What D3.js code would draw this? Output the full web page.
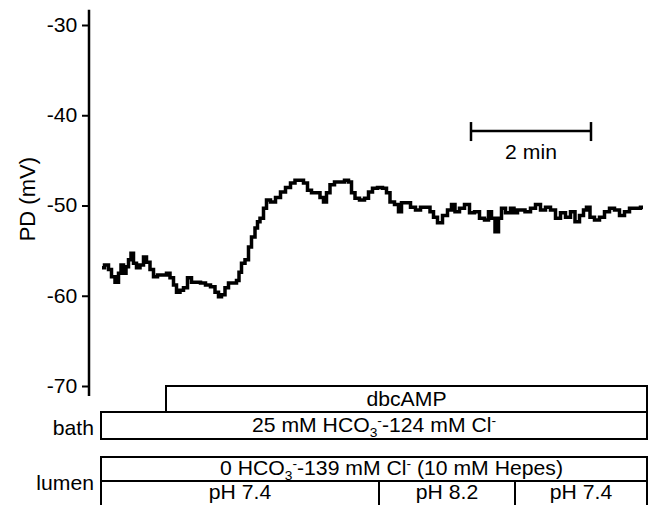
<!DOCTYPE html>
<html>
<head>
<meta charset="utf-8">
<script src="https://cdn.jsdelivr.net/npm/d3@7"></script>
<style>
  body { margin: 0; background: #fff; }
  text { font-family: "Liberation Sans", Arial, sans-serif; fill: #000; }
</style>
</head>
<body>
<svg width="653" height="505"></svg>
<script>
// time in seconds from start of trace, PD in mV
const timeS = [0, 5, 8, 11, 15, 18, 20, 23, 25, 28, 30, 33, 36, 40, 43, 46, 50, 53, 58, 63,
  66, 70, 73, 76, 80, 83, 88, 91, 96, 101, 106, 111, 115, 118, 121, 125, 128, 133, 136, 138,
  141, 145, 148, 151, 155, 156, 160, 163, 166, 171, 176, 181, 186, 191, 195, 200, 203, 208, 211, 216,
  220, 223, 226, 230, 235, 240, 245, 248, 251, 255, 260, 265, 268, 273, 278, 283, 286, 290, 295, 298,
  301, 306, 311, 316, 321, 326, 330, 333, 338, 343, 348, 351, 355, 360, 365, 370, 375, 380, 385, 388,
  391, 395, 398, 401, 406, 411, 413, 418, 420, 426, 431, 436, 441, 446, 451, 456, 461, 466, 471, 475,
  480, 483, 486, 490, 495, 500, 505, 510, 515, 520, 525, 530, 536, 541];
const pdMV = [-56.9, -56.6, -57.1, -57.9, -58.5, -57.5, -56.6, -57.5, -56.8, -56.0, -55.3, -56.4, -56.9, -56.6, -55.7, -56.3, -57.1, -57.9, -57.7, -57.7,
  -57.5, -58.0, -58.8, -59.6, -59.4, -59.1, -58.0, -58.5, -58.5, -58.6, -58.8, -59.0, -59.6, -60.1, -59.9, -59.1, -58.6, -58.6, -58.3, -57.4,
  -56.4, -56.0, -54.6, -53.5, -52.5, -51.8, -51.4, -50.3, -49.4, -49.6, -49.1, -48.5, -48.0, -47.5, -47.2, -47.2, -47.5, -48.3, -48.6, -48.6,
  -49.1, -49.6, -48.6, -47.7, -47.4, -47.4, -47.2, -47.4, -48.6, -49.2, -49.4, -49.2, -48.5, -48.1, -48.0, -48.1, -48.6, -49.6, -49.9, -50.7,
  -49.7, -49.7, -50.2, -50.5, -50.2, -50.2, -50.7, -51.3, -51.9, -51.1, -50.5, -49.9, -50.7, -50.3, -49.9, -50.8, -50.7, -51.4, -51.6, -50.7,
  -51.4, -52.9, -51.4, -50.3, -50.8, -50.3, -50.8, -50.5, -50.5, -50.7, -50.3, -49.9, -50.5, -50.2, -50.5, -51.4, -50.8, -51.3, -50.7, -51.8,
  -51.1, -50.5, -50.2, -51.3, -51.6, -51.3, -50.7, -50.3, -50.5, -51.1, -50.7, -50.3, -50.3, -50.2];

const yTicks = [-30, -40, -50, -60, -70];
const scaleBarStart = 369, scaleBarEnd = 489;   // 2 min
const scaleBarMV = -41.75;

// protocol bars (times in s)
const protocolStart = -1, protocolEnd = 545;
const dbcStart = 64;
const phBreaks = [-1, 277, 413, 545];
const phLabels = ['pH 7.4', 'pH 8.2', 'pH 7.4'];

const svg = d3.select('svg');
const x = d3.scaleLinear().domain([0, 541]).range([102, 643]);
const y = d3.scaleLinear().domain([-70, -30]).range([386, 25]);
const stretch = 'scale(1.06,1)';
const fs = 20;

// y axis
const axisG = svg.append('g')
    .attr('transform', 'translate(89,0)')
    .call(d3.axisLeft(y).tickValues(yTicks).tickFormat(d => String(d))
      .tickSize(7).tickPadding(4).tickSizeOuter(0));
axisG.select('.domain').remove();
axisG.selectAll('line').attr('stroke-width', 2);
axisG.selectAll('text')
    .attr('font-size', fs)
    .attr('font-family', '"Liberation Sans", Arial, sans-serif')
    .attr('transform', stretch);
axisG.append('line')
    .attr('y1', y(-28.3)).attr('y2', y(-71.1))
    .attr('stroke', '#000').attr('stroke-width', 2.5);

svg.append('text')
    .attr('transform', `translate(35,${y(-49.3)}) rotate(-90)`)
    .attr('text-anchor', 'middle')
    .attr('font-size', 22)
    .text('PD (mV)');

// trace
const pts = timeS.map((t, i) => [t, pdMV[i]]);
svg.append('path')
    .datum(pts)
    .attr('fill', 'none')
    .attr('stroke', '#000')
    .attr('stroke-width', 3.5)
    .attr('stroke-linejoin', 'miter')
    .attr('d', d3.line().curve(d3.curveStep).x(d => x(d[0])).y(d => y(d[1])));

// 2 min scale bar
const sb = svg.append('g').attr('stroke', '#000').attr('stroke-width', 2.5);
sb.append('line')
    .attr('x1', x(scaleBarStart)).attr('x2', x(scaleBarEnd))
    .attr('y1', y(scaleBarMV)).attr('y2', y(scaleBarMV));
[scaleBarStart, scaleBarEnd].forEach(t => {
  sb.append('line')
      .attr('x1', x(t)).attr('x2', x(t))
      .attr('y1', y(scaleBarMV) - 9).attr('y2', y(scaleBarMV) + 10);
});
svg.append('text')
    .attr('transform', `translate(${(x(scaleBarStart) + x(scaleBarEnd)) / 2},${y(scaleBarMV) + 28}) ${stretch}`)
    .attr('text-anchor', 'middle')
    .attr('font-size', fs)
    .text('2 min');

// protocol boxes
const box = (x0, x1, y0, y1) => svg.append('rect')
    .attr('x', x(x0)).attr('y', y0)
    .attr('width', x(x1) - x(x0)).attr('height', y1 - y0)
    .attr('fill', 'none').attr('stroke', '#000').attr('stroke-width', 2);

const label = (tx, ty, anchor) => svg.append('text')
    .attr('transform', `translate(${tx},${ty}) ${stretch}`)
    .attr('text-anchor', anchor || 'middle')
    .attr('font-size', fs);

box(dbcStart, protocolEnd, 386, 412);
label((x(dbcStart) + x(protocolEnd)) / 2, 406).text('dbcAMP');

box(protocolStart, protocolEnd, 412, 439);
const bathT = label((x(protocolStart) + x(protocolEnd)) / 2, 432);
bathT.append('tspan').text('25 mM HCO');
bathT.append('tspan').attr('font-size', 13).attr('dy', 5).text('3');
bathT.append('tspan').attr('font-size', 13).attr('dy', -12).text('-');
bathT.append('tspan').attr('dy', 7).text('-124 mM Cl');
bathT.append('tspan').attr('font-size', 13).attr('dy', -7).text('-');
label(94, 435, 'end').text('bath');

box(protocolStart, protocolEnd, 457, 481);
const lumT = label(x(protocolStart) + (x(protocolEnd) - x(protocolStart)) * 0.532, 475);
lumT.append('tspan').text('0 HCO');
lumT.append('tspan').attr('font-size', 13).attr('dy', 5).text('3');
lumT.append('tspan').attr('font-size', 13).attr('dy', -12).text('-');
lumT.append('tspan').attr('dy', 7).text('-139 mM Cl');
lumT.append('tspan').attr('font-size', 13).attr('dy', -7).text('-');
lumT.append('tspan').attr('dy', 7).text(' (10 mM Hepes)');
label(94, 490, 'end').text('lumen');

phBreaks.forEach(t => {
  svg.append('line')
      .attr('x1', x(t)).attr('x2', x(t))
      .attr('y1', 481).attr('y2', 506)
      .attr('stroke', '#000').attr('stroke-width', 2);
});
phLabels.forEach((s, i) => {
  label((x(phBreaks[i]) + x(phBreaks[i + 1])) / 2, 499).text(s);
});
</script>
</body>
</html>
